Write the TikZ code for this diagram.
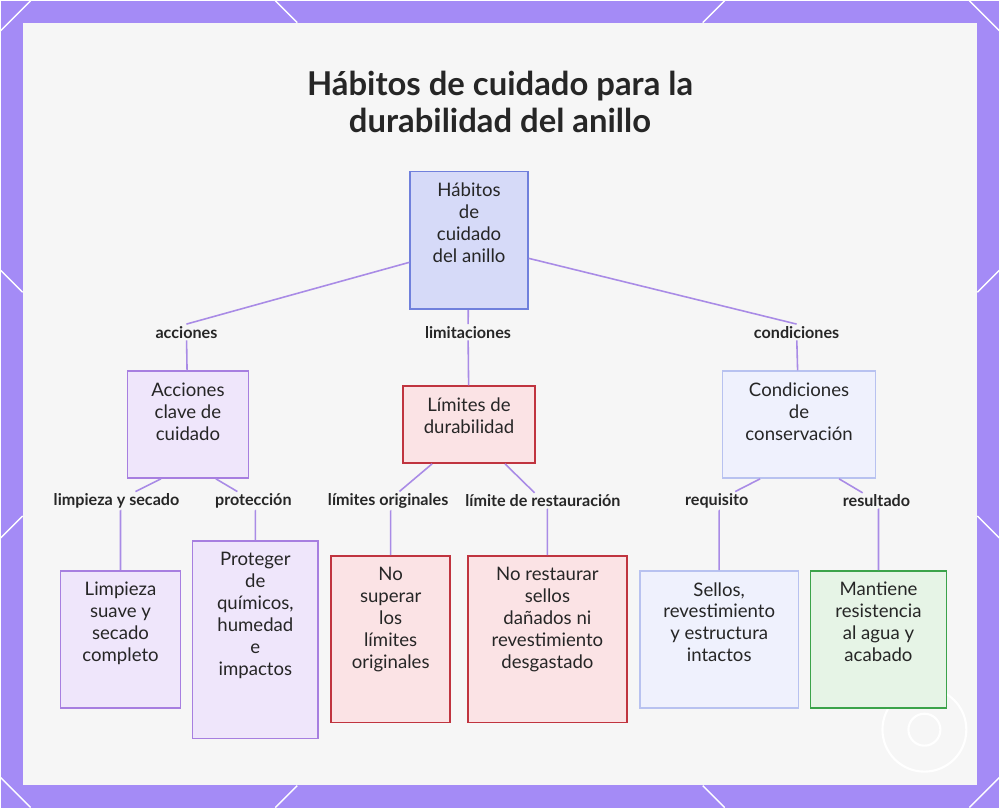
\documentclass[tikz,border=0pt]{standalone}
\usepackage{fontspec}
\setmainfont{Lato}
\usetikzlibrary{calc,positioning}
\definecolor{frame}{HTML}{A48BF6}
\definecolor{panel}{HTML}{F6F6F6}
\definecolor{edge}{HTML}{A98BE6}
\definecolor{rootfill}{HTML}{D6DAF8}
\definecolor{rootdraw}{HTML}{7080DC}
\definecolor{purfill}{HTML}{EFE6FB}
\definecolor{purdraw}{HTML}{A77FE0}
\definecolor{redfill}{HTML}{FBE3E5}
\definecolor{reddraw}{HTML}{C0343F}
\definecolor{bluefill}{HTML}{EFF1FD}
\definecolor{bluedraw}{HTML}{B8C2F0}
\definecolor{grnfill}{HTML}{E6F4E6}
\definecolor{grndraw}{HTML}{3BA34A}

\begin{document}
\begin{tikzpicture}[x=0.02cm, y=-0.02cm,
  box/.style = {draw, line width = 0.9pt, inner sep = 0pt},
  txt/.style = {label = {[anchor = north, yshift = -0.12cm, align = center, font = \fontsize{10.6}{12.5}\selectfont, text = black!85]north:{#1}}},
  purple/.style = {box, fill = purfill, draw = purdraw},
  red/.style = {box, fill = redfill, draw = reddraw},
  blue/.style = {box, fill = bluefill, draw = bluedraw},
  green/.style = {box, fill = grnfill, draw = grndraw},
  lbl/.style = {font = \fontsize{9.2}{10}\selectfont\bfseries, text = black!85, inner sep = 1pt},
  conn/.style = {draw = edge, line width = 0.9pt}]
        % frame and panel
        \fill [frame] (0,0) rectangle (1000,808);
        \fill [panel] (22,22) rectangle (978,785);
        \foreach \a/\b/\c/\d in {0/30/30/0, 970/0/1000/30, 0/778/30/808, 970/808/1000/778,
                                 275/0/297/22, 703/22/725/0, 275/808/297/786, 703/786/725/808,
                                 0/270/22/292, 0/538/22/516, 1000/270/978/292, 1000/538/978/516}
                 {
                   \draw [white, line width = 0.8pt] (\a,\b) -- (\c,\d);
                 }
        \draw [white, line width = 1.2pt] (925,730) circle (42);
        \draw [white, line width = 1.2pt] (925,730) circle (16);

        % title
        \node [font = \fontsize{18.7}{21}\selectfont\bfseries, align = center, text = black!85] (title) at (500,101)
              {Hábitos de cuidado para la\\durabilidad del anillo};

        % nodes
        \node [box, fill = rootfill, draw = rootdraw, minimum width = 118*0.02cm, minimum height = 138*0.02cm,
               txt = {Hábitos\\de\\cuidado\\del anillo}] (root) at (469,240) {};
        \node [purple, minimum width = 121*0.02cm, minimum height = 107*0.02cm, txt = {Acciones\\clave de\\cuidado}] (acc) at (187.5,424.5) {};
        \node [red, minimum width = 132*0.02cm, minimum height = 77*0.02cm, txt = {Límites de\\durabilidad}] (lim) at (469,424.5) {};
        \node [blue, minimum width = 153*0.02cm, minimum height = 107*0.02cm, txt = {Condiciones\\de\\conservación}] (cond) at (799.5,424.5) {};

        \node [purple, minimum width = 120*0.02cm, minimum height = 137*0.02cm, txt = {Limpieza\\suave y\\secado\\completo}] (limp) at (120,639.5) {};
        \node [purple, minimum width = 126*0.02cm, minimum height = 198*0.02cm, txt = {Proteger\\de\\químicos,\\humedad\\e\\impactos}] (prot) at (255,640) {};
        \node [red, minimum width = 119*0.02cm, minimum height = 167*0.02cm, txt = {No\\superar\\los\\límites\\originales}] (nosup) at (390.5,639.5) {};
        \node [red, minimum width = 159*0.02cm, minimum height = 167*0.02cm, txt = {No restaurar\\sellos\\dañados ni\\revestimiento\\desgastado}] (nores) at (547.5,639.5) {};
        \node [blue, minimum width = 159*0.02cm, minimum height = 137*0.02cm, txt = {Sellos,\\revestimiento\\y estructura\\intactos}] (sell) at (719.5,639.5) {};
        \node [green, minimum width = 136*0.02cm, minimum height = 137*0.02cm, txt = {Mantiene\\resistencia\\al agua y\\acabado}] (mant) at (879,639.5) {};

        % edge labels
        \node [lbl] (lacc) at (186,332) {acciones};
        \node [lbl] (llim) at (468,332) {limitaciones};
        \node [lbl] (lcond) at (797,332) {condiciones};
        \node [lbl] (llimp) at (116,501) {limpieza y secado};
        \node [lbl] (lprot) at (253,501) {protección};
        \node [lbl] (lnosup) at (388,501) {límites originales};
        \node [lbl] (lnores) at (543,501) {límite de restauración};
        \node [lbl] (lsell) at (717,501) {requisito};
        \node [lbl] (lmant) at (877,501) {resultado};

        % connectors
        \draw [conn] ([yshift=-22*0.02cm]root.west) -- (lacc.north) (lacc) -- (acc);
        \draw [conn] (root) -- (llim) -- (lim);
        \draw [conn] ([yshift=-18*0.02cm]root.east) -- (lcond.north) (lcond) -- (cond);
        \draw [conn] ([xshift=-27*0.02cm]acc.south) -- (llimp) -- (llimp.south-|limp.north) -- (limp.north);
        \draw [conn] ([xshift=28*0.02cm]acc.south) -- (lprot) -- (lprot.south-|prot.north) -- (prot.north);
        \draw [conn] ([xshift=-37*0.02cm]lim.south) -- (lnosup) -- (lnosup.south-|nosup.north) -- (nosup.north);
        \draw [conn] ([xshift=36*0.02cm]lim.south) -- (lnores) -- (lnores.south-|nores.north) -- (nores.north);
        \draw [conn] ([xshift=-39*0.02cm]cond.south) -- (lsell) -- (lsell.south-|sell.north) -- (sell.north);
        \draw [conn] ([xshift=40*0.02cm]cond.south) -- (lmant) -- (lmant.south-|mant.north) -- (mant.north);
      \end{tikzpicture}
\end{document}
